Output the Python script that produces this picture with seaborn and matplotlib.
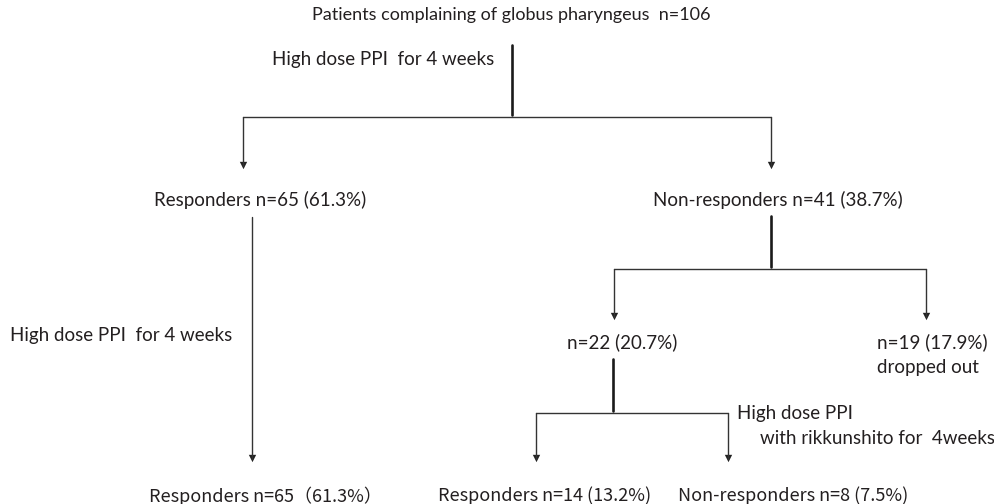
import matplotlib.pyplot as plt
import pandas as pd
import seaborn as sns

# study data
total_n = 106
first_groups = ['Responders', 'Non-responders']
first_n = [65, 41]
first_pct = [61.3, 38.7]
second_n = [22, 19]
second_pct = [20.7, 17.9]
rk_groups = ['Responders', 'Non-responders']
rk_n = [14, 8]
rk_pct = [13.2, 7.5]
treatment_ppi = 'High dose PPI  for 4 weeks'
treatment_rk = ['High dose PPI', 'with rikkunshito for  4weeks']

# layout in pixel space (y down)
W, H = 995, 504
thick_segments = [((512, 45), (512, 115)), ((771, 216), (771, 267)), ((613, 359), (613, 411))]
thin_segments = [((243, 117), (771, 117)), ((243, 117), (243, 166)), ((771, 117), (771, 166)),
                 ((252, 217), (252, 459)),
                 ((614, 269), (926, 269)), ((614, 269), (614, 317)), ((926, 269), (926, 317)),
                 ((536, 413), (728, 413)), ((536, 413), (536, 459)), ((728, 413), (728, 459))]
arrow_tips = [(243, 168), (771, 168), (252, 461), (614, 319), (926, 319), (536, 461), (728, 461)]


def seg_frame(segs):
    rows = []
    for i, (a, b) in enumerate(segs):
        rows.append({'x': a[0], 'y': a[1], 'seg': i})
        rows.append({'x': b[0], 'y': b[1], 'seg': i})
    return pd.DataFrame(rows)


sns.set_theme(style='white')
plt.rcParams['font.family'] = ['Lato', 'DejaVu Sans']

fig = plt.figure(figsize=(W / 100, H / 100), dpi=100)
ax = fig.add_axes([0, 0, 1, 1])

sns.lineplot(data=seg_frame(thick_segments), x='x', y='y', units='seg', estimator=None, sort=False,
             color='#1a1a1a', linewidth=1.9, ax=ax)
sns.lineplot(data=seg_frame(thin_segments), x='x', y='y', units='seg', estimator=None, sort=False,
             color='#333333', linewidth=1.0, ax=ax)
sns.scatterplot(data=pd.DataFrame(arrow_tips, columns=['x', 'y']).assign(y=lambda d: d.y - 3),
                x='x', y='y', marker='v', s=28, color='#222222', linewidth=0, ax=ax)

txt = dict(color='#231f20', fontsize=13.5, va='center')
ax.text(511, 15, 'Patients complaining of globus pharyngeus  n=%d' % total_n, ha='center',
        **dict(txt, fontsize=13))
ax.text(272, 60, treatment_ppi, ha='left', **txt)
ax.text(260, 200, '%s n=%d (%.1f%%)' % (first_groups[0], first_n[0], first_pct[0]), ha='center', **txt)
ax.text(778, 200, '%s n=%d (%.1f%%)' % (first_groups[1], first_n[1], first_pct[1]), ha='center', **txt)
ax.text(10, 336, treatment_ppi, ha='left', **txt)
ax.text(622, 342, 'n=%d (%.1f%%)' % (second_n[0], second_pct[0]), ha='center', **txt)
ax.text(877, 342, 'n=%d (%.1f%%)' % (second_n[1], second_pct[1]), ha='left', **txt)
ax.text(877, 367, 'dropped out', ha='left', **txt)
ax.text(737, 413, treatment_rk[0], ha='left', **txt)
ax.text(760, 438, treatment_rk[1], ha='left', **txt)

bot = dict(txt, family=['Noto Sans CJK JP', 'DejaVu Sans'], fontsize=13)
ax.text(265, 496, '%s n=%d（%.1f%%）' % (first_groups[0], first_n[0], first_pct[0]), ha='center', **bot)
ax.text(545, 496, '%s n=%d (%.1f%%)' % (rk_groups[0], rk_n[0], rk_pct[0]), ha='center', **bot)
ax.text(793, 496, '%s n=%d (%.1f%%)' % (rk_groups[1], rk_n[1], rk_pct[1]), ha='center', **bot)

ax.set_xlim(0, W)
ax.set_ylim(H, 0)
ax.set_axis_off()
fig.savefig('out.png', dpi=100)
